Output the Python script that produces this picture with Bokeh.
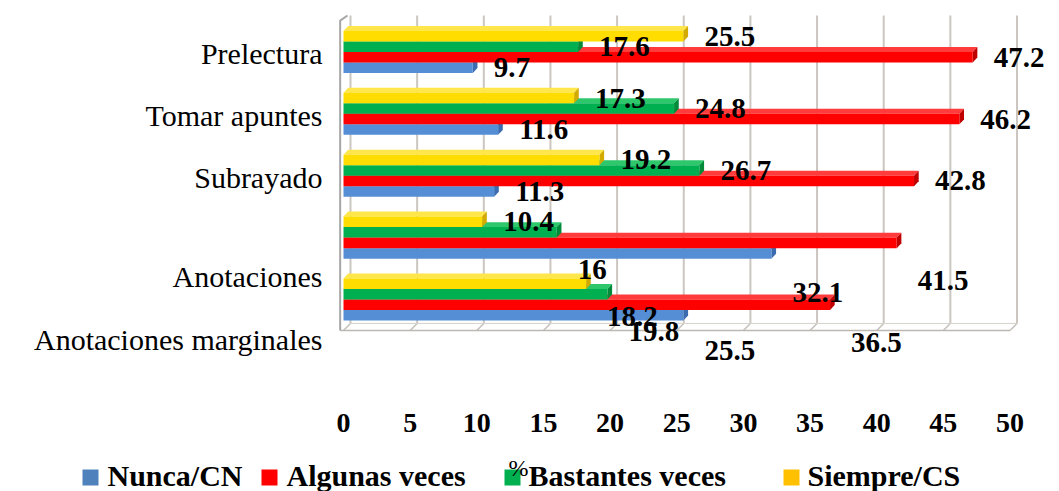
from bokeh.plotting import figure
from bokeh.models import ColumnDataSource, Range1d, FixedTicker
from bokeh.layouts import column
from bokeh.embed import file_html
from bokeh.resources import INLINE

# ---------------- data ----------------
categories = ["Prelectura", "Tomar apuntes", "Subrayado", "Anotaciones", "Anotaciones marginales"]
series_names = ["Nunca/CN", "Algunas veces", "Bastantes veces", "Siempre/CS"]
nunca = [9.7, 11.6, 11.3, 32.1, 25.5]
algunas = [47.2, 46.2, 42.8, 41.5, 36.5]
bastantes = [17.6, 24.8, 26.7, 16.0, 19.8]
siempre = [25.5, 17.3, 19.2, 10.4, 18.2]
x_ticks = [0, 5, 10, 15, 20, 25, 30, 35, 40, 45, 50]
axis_title = "%"

# ---------------- layout / style ----------------
cat_pos = [4, 3, 2, 1, 0]                 # category slots, top to bottom
h = 0.17                                  # bar thickness (category units)
bar_dx, bar_dy = 0.35, 0.08               # 3D depth of bars
wall_dx, wall_dy = 0.525, 0.113           # 3D depth of walls / floor
floor_front = -0.5
floor_back = floor_front + wall_dy
wall_top = 4.588

# the original picture shows some labels displaced downward (category units)
value_label_drop = [
    [0, 0, 0, 0.63, 0.57],   # Nunca
    [0, 0, 0, 0.61, 0.61],   # Algunas
    [0, 0, 0, 0.60, 0.60],   # Bastantes
    [0, 0, 0, 0.00, 0.53],   # Siempre
]
cat_label_drop = [0.03, 0.03, 0.03, 0.63, 0.65]

series_vals = [nunca, algunas, bastantes, siempre]
series_off = [-1.5 * h, -0.5 * h, 0.5 * h, 1.5 * h]
front_colors = ["#558ed5", "#ff0000", "#00b050", "#ffdd00"]
top_colors = ["#7ea8e2", "#ff3b3b", "#2ec76c", "#ffe64a"]
side_colors = ["#3b6cb0", "#c00000", "#008a3a", "#d2aa00"]
legend_colors = ["#4f81bd", "#ff0000", "#00b050", "#ffc000"]

SERIF = {"value": "Liberation Serif"}
W = 1059

p = figure(width=W, height=450,
           x_range=Range1d(-25.731, 53.713), y_range=Range1d(-1.018, 4.621),
           output_backend="svg", toolbar_location=None, y_axis_location=None,
           min_border_left=0, min_border_right=0, min_border_top=13, min_border_bottom=88)
p.xgrid.visible = False
p.ygrid.visible = False
p.outline_line_color = None
p.background_fill_color = "white"

# ---------------- 3D walls ----------------
grid_x = [t + wall_dx for t in x_ticks]
p.segment(x0=grid_x, y0=[floor_back] * len(grid_x), x1=grid_x, y1=[wall_top] * len(grid_x),
          line_color="#cbc6c0", line_width=2)
p.segment(x0=x_ticks, y0=[floor_front] * len(x_ticks), x1=grid_x, y1=[floor_back] * len(x_ticks),
          line_color="#c4c0ba", line_width=1.5)
p.line(x=[-0.25, x_ticks[-1]], y=[floor_front, floor_front], line_color="#bdb8b2", line_width=1.5)
p.line(x=[wall_dx, grid_x[-1]], y=[floor_back, floor_back], line_color="#d6d2cc", line_width=1)
p.line(x=[-0.25, -0.25, 0.3], y=[floor_front, 4.507, wall_top], line_color="#a6a6a6", line_width=2)

# ---------------- bars ----------------
for s in range(4):
    vals = series_vals[s]
    yc = [c + series_off[s] for c in cat_pos]
    top_xs, top_ys, side_xs, side_ys = [], [], [], []
    for v, y in zip(vals, yc):
        y0, y1 = y - h / 2, y + h / 2
        top_xs.append([0, v, v + bar_dx, bar_dx])
        top_ys.append([y1, y1, y1 + bar_dy, y1 + bar_dy])
        side_xs.append([v, v + bar_dx, v + bar_dx, v])
        side_ys.append([y0, y0 + bar_dy, y1 + bar_dy, y1])
    p.patches(xs=top_xs, ys=top_ys, fill_color=top_colors[s], line_color=None)
    p.patches(xs=side_xs, ys=side_ys, fill_color=side_colors[s], line_color=None)
    src = ColumnDataSource(dict(y=yc, right=vals))
    p.hbar(y="y", left=0, right="right", height=h, source=src,
           fill_color=front_colors[s], line_color=None)

# ---------------- value labels ----------------
for s in range(4):
    vals = series_vals[s]
    ys = [c + series_off[s] - d for c, d in zip(cat_pos, value_label_drop[s])]
    txt = [("%g" % v) for v in vals]
    lsrc = ColumnDataSource(dict(x=vals, y=ys, t=txt))
    p.text(x="x", y="y", text="t", source=lsrc, x_offset=21,
           text_align="left", text_baseline="middle",
           text_font=SERIF, text_font_style="bold",
           text_font_size="29px", text_color="black")

# ---------------- category labels ----------------
csrc = ColumnDataSource(dict(x=[0] * len(categories),
                             y=[c - d for c, d in zip(cat_pos, cat_label_drop)],
                             t=categories))
p.text(x="x", y="y", text="t", source=csrc, x_offset=-21,
       text_align="right", text_baseline="middle",
       text_font=SERIF, text_font_size="30px", text_color="black")

# ---------------- x axis ----------------
ax = p.xaxis[0]
ax.ticker = FixedTicker(ticks=x_ticks)
ax.axis_line_color = None
ax.major_tick_line_color = None
ax.minor_tick_line_color = None
ax.major_label_standoff = 45
ax.major_label_text_font = "Liberation Serif"
ax.major_label_text_font_style = "bold"
ax.major_label_text_font_size = "28px"
ax.major_label_text_color = "black"

# ---------------- legend strip (page-pixel coordinates) ----------------
p2 = figure(width=W, height=41, x_range=Range1d(0, W), y_range=Range1d(41, 0),
            output_backend="svg", toolbar_location=None,
            min_border_left=0, min_border_right=0, min_border_top=0, min_border_bottom=0,
            x_axis_location=None, y_axis_location=None)
p2.xgrid.visible = False
p2.ygrid.visible = False
p2.outline_line_color = None

legend_glyph_x = [90, 269, 512, 791]
legend_text_x = [107, 286, 528, 807]
p2.rect(x=legend_glyph_x, y=[27] * 4, width=16, height=16,
        fill_color=legend_colors, line_color=None)
p2.text(x=legend_text_x, y=[25] * 4, text=series_names,
        text_align="left", text_baseline="middle",
        text_font=SERIF, text_font_style="bold", text_font_size="30px", text_color="black")
p2.text(x=[518], y=[17], text=[axis_title], text_align="center", text_baseline="middle",
        text_font=SERIF, text_font_size="24px", text_color="black")

layout = column(p, p2, spacing=0)
open("out.html", "w").write(file_html(layout, INLINE))
